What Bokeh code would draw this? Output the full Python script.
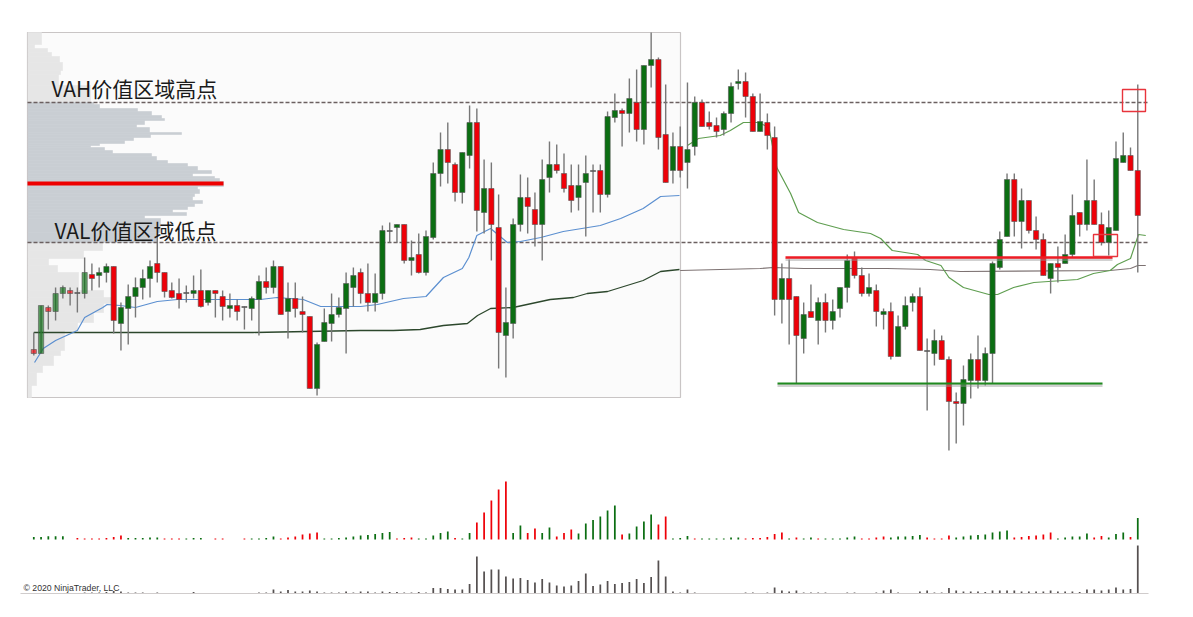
from bokeh.plotting import figure
from bokeh.models import Range1d
from bokeh.core.properties import value
from bokeh.embed import file_html
from bokeh.resources import INLINE

# --- candles (price scale runs downward, no labels in the source)
candles = [
 # dir, body_top, body_bottom, high, low
 ("r",349,353,332,355),("g",305,353,305,353),("r",307,311,305,329),("g",293,311,287,320),
 ("g",287,293,285,298),("r",290,293,287,305),("d",292,293,287,312),("g",272,293,257,298),
 ("r",274,278,263,290),("g",272,275,267,287),("g",266,272,263,282),("r",266,320,266,333),
 ("g",307,323,302,350),("g",296,308,284,344),("g",287,296,277,317),("g",278,287,269,299),
 ("g",266,278,260,297),("r",263,272,236,282),("r",272,291,272,297),("r",290,297,282,298),
 ("r",293,299,278,308),("d",292,293,285,302),("g",290,293,275,298),("r",290,306,269,307),
 ("g",290,302,290,305),("r",290,293,290,317),("r",296,306,290,320),("g",305,308,293,317),
 ("r",305,311,299,320),("d",306,307,306,329),("g",298,308,296,320),("g",281,299,275,335),
 ("r",281,287,267,293),("g",266,287,260,293),("r",266,314,266,314),("g",298,311,282,338),
 ("r",298,308,282,317),("r",311,314,296,332),("r",316,388,316,388),("g",344,388,342,395),
 ("g",322,341,308,341),("g",314,323,293,341),("g",307,314,297,317),("g",283,308,272,353),
 ("g",275,287,267,306),("r",272,293,268,303),("r",293,302,263,311),("g",293,302,273,311),
 ("g",230,293,225,299),("d",230,231,222,242),("g",224,227,224,242),("r",224,260,224,263),
 ("g",257,260,240,275),("r",254,272,233,273),("g",236,272,230,275),("g",173,237,162,239),
 ("g",149,173,132,186),("r",149,162,122,183),("r",164,192,162,201),("g",152,192,152,203),
 ("g",122,155,105,168),("r",122,210,108,231),("g",188,212,159,233),("r",188,224,162,260),
 ("r",227,332,194,368),("g",322,335,287,377),("g",224,323,218,338),("g",197,224,174,231),
 ("r",197,206,177,233),("r",209,224,192,246),("g",179,224,159,260),("g",164,177,141,192),
 ("r",164,170,144,173),("r",173,188,153,192),("r",185,200,164,212),("g",185,197,164,210),
 ("g",173,182,155,236),("d",170,171,164,212),("r",170,194,164,212),("g",116,194,111,197),
 ("g",110,117,93,122),("r",110,113,108,146),("g",98,113,78,132),("r",102,129,69,141),
 ("g",65,129,65,144),("g",59,65,32,87),("r",59,137,57,149),("r",134,182,84,182),
 ("g",146,170,132,183),("r",146,170,126,177),("g",149,162,82,188),("g",102,146,96,155),
 ("r",102,126,99,126),("r",122,126,111,129),("r",125,131,117,137),("g",113,129,111,135),
 ("g",86,113,82,122),("g",81,83,69,89),("r",81,96,72,117),("r",96,131,93,131),
 ("g",121,131,93,131),("r",122,135,113,149),("r",137,299,126,315),("g",278,299,263,323),
 ("r",278,299,259,344),("r",296,335,296,383),("g",314,338,302,353),("r",311,317,284,317),
 ("g",302,320,297,344),("r",302,320,293,332),("g",311,320,299,329),("g",287,308,287,317),
 ("g",260,287,254,302),("r",257,275,251,278),("r",275,293,267,296),("g",287,293,273,296),
 ("r",290,311,284,326),("g",311,314,308,329),("r",311,356,302,359),("g",326,356,315,356),
 ("g",305,326,296,329),("g",296,302,293,311),("r",296,350,287,350),("d",350,351,338,410),
 ("g",340,353,329,365),("r",340,359,335,359),("r",359,401,356,450),("r",401,403,392,443),
 ("g",379,403,365,425),("g",359,380,353,398),("r",359,380,335,388),("g",353,380,347,385),
 ("g",263,353,261,383),("g",239,267,231,269),("g",179,236,173,236),("r",179,221,173,236),
 ("g",200,221,188,248),("r",200,230,200,233),("r",230,239,216,249),("r",239,275,233,275),
 ("g",263,278,263,293),("r",263,267,246,282),("g",254,263,234,263),("g",215,254,194,257),
 ("r",212,224,212,236),("g",200,224,159,230),("r",200,224,179,224),("r",224,242,212,245),
 ("g",227,242,210,255),("g",158,230,141,230),("g",155,162,132,162),("r",155,170,147,170),
 ("r",170,215,84,272),
]

# --- delta-volume panel: colour and height per bar
delta_vals = [
 ("g",2.5),("g",2.5),("g",3.3),("g",3.3),("g",3.3),("n",0),("r",1.5),("r",1),("r",1),("r",1),
 ("r",1.5),("r",2.5),("r",4),("g",1.5),("g",1.5),("g",1.5),("g",2),("g",2),("r",1),("r",1),
 ("r",1),("g",1),("g",1.5),("g",1.5),("n",0),("r",1),("r",1),("n",0),("n",0),("r",1),
 ("g",1),("g",1),("g",1.5),("g",3),("r",1),("r",2),("r",3),("r",5),("r",6),("r",7),
 ("g",1),("g",1),("g",1.5),("g",2),("g",3),("g",4),("g",4.5),("g",5.5),("g",6.5),("g",7.5),
 ("r",1),("r",1.5),("r",2),("g",1),("g",1),("g",4),("g",6.5),("g",8),("r",1.5),("g",1),
 ("g",6.5),("r",17),("r",27),("r",39),("r",50),("r",58),("g",6.5),("g",14),("r",6.5),("r",11),
 ("g",6.5),("g",12),("r",3),("r",6.5),("r",10),("g",6),("g",16),("g",19.5),("g",23),("g",29),
 ("g",34),("r",5),("g",6),("g",13),("g",18),("g",25),("r",15),("r",23),("g",1),("g",1.5),
 ("g",3.5),("r",1),("g",1),("g",1),("g",1),("g",1),("g",2),("g",2),("r",1),("r",1.5),
 ("r",1.5),("r",2.5),("r",5.5),("r",7),("g",1),("r",2),("g",1),("g",2),("r",1),("g",1),
 ("g",1),("g",1),("g",2),("g",3),("r",1),("r",1),("r",2),("r",3),("g",2),("g",3),
 ("g",3),("g",3.5),("g",4.5),("r",2),("r",1),("r",1),("r",4),("g",2),("g",3),("g",4),
 ("g",4.5),("g",5),("g",7),("g",8),("g",9),("r",2),("r",2.5),("r",3.5),("r",4),("r",5),
 ("r",7),("g",1),("g",2),("g",3),("g",3),("g",6),("r",2),("r",3.5),("g",2),("g",5.5),
 ("g",7),("r",2.5),("g",21.5),
]

# --- total-volume panel
volume = [
 0,0,0,0,0.5,0,0,1,1,1,1.5,2.5,2,1,1,1,0,1,0,0,
 0,0,1.5,0,0,0,0,0,0,0,0,1,1,4,2,3.5,2,2,3,2,
 1,1,1,2,1,2,2,1,2,1.5,1.5,1,1,1.5,1,5.5,5.5,4.5,4,4,
 9.5,37,22,24,24,17,15,15.5,13.5,11,14.5,11,8,7,8,12.5,20,7.5,9,12.5,
 9.5,10.5,11.5,14.5,10.5,16.5,33,17,2,1,4,1,0,0,0,0,0,0,1,1,
 0.5,1,6,3,2,3,1,1,1,1,0,0,1,1,0,0,1,3,4,1,
 0,0,2,3,1,1,5.5,3,2,2,2,1.5,3,3,3,3,2,2,2,2,
 3,2,2,2,1.5,4,4,3,4,6,4,4.5,48,
]

# --- running lines: bar position, level
blue_x = [0.1,1.3,3,6,7,9.5,10.1,11.9,14,17,19.8,31.2,33.5,37.1,39.5,45,47.3,50.9,54,56.4,59,59.9,61,62.9,65.2,67,69.8,72.9,78,80.8,83.9,86.3,88.9]
blue_y = [362,348,340,330,317,307,304,305,307,301,299,299,297,299,306,306,304,298,296,277,268,257,235,228,242,241,237,231,225,218,208,196,195]
dark_x = [0,30.2,45,49.5,53.2,56.4,59.7,61.1,62.9,66,71.1,74.3,76.2,79,83.9,86.3,88.9]
dark_y = [332,332,330,330,329,325,323,315,308,307,299,297,293,291,280,271,269]
gray_x = [89,100,101.8,106,117.5,123.4,127.6,148.2,151,152,153.1]
gray_y = [270,268,267,268,268,269,271,270,268,265,265]
green_x = [90,91.5,94.5,95.9,97.7,99.8,101.2,102.3,104.2,105.3,107.9,111.5,115.2,116.6,118.2,121.7,122.8,124.9,126,128,131.5,132.7,134.9,137.7,143.7,145.9,148.2,149.2,151,152.1,153.1]
green_y = [145,138,135,130,122,122,127,167,193,212,222,229,233,238,250,254,260,265,277,287,294,294,287,282,279,273,270,264,258,234,235]

# --- volume profile at the left: row top, row bottom, extent
profile_light = [
 (32,44,41),(44,48,34),(48,52,47),(52,56,51),(56,62,59),(62,70,62),(70,74,60),(74,85,58),(85,102,90),
 (242,250,102),(250,258,83),(258,265,48),(265,272,57),(272,290,78),(290,297,103),(297,303,113),
 (303,312,103),(312,322,93),(322,330,77),(330,350,64),(350,355,60),(355,365,53),(365,372,42),(372,385,36),(385,397,31),
]
profile_value_area = [
 (102,104,93),(104,108,99),(108,111,137),(111,115,151),(115,118,161),(118,120,164),(120,124,144),
 (124,127,136),(127,132,149),(132,134,181),(134,137,150),(137,140,133),(140,143,124),(143,145,99),(145,147,90),
 (147,150,104),(150,153,112),(153,156,151),(156,160,156),(160,163,167),(163,166,187),(166,170,197),
 (170,173,211),(173,176,192),(176,178,214),(178,181,219),(181,186,223),(186,189,197),(189,193,199),
 (193,196,194),(196,200,192),(200,203,202),(203,206,194),(206,209,187),(209,212,172),(212,215,186),
 (215,218,144),(218,232,160),(232,242,157),
]

labels = ["VAH价值区域高点", "VAL价值区域低点"]
copyright_text = "© 2020 NinjaTrader, LLC"

STEP = 7.263
X0 = 33.3
W, H = 1185, 609
p = figure(width=W, height=H, output_backend="svg", toolbar_location=None,
           x_range=Range1d(-X0 / STEP, (W - X0) / STEP),
           y_range=Range1d(H, 0), min_border=0,
           background_fill_color="white", border_fill_color="white")
p.extra_x_ranges = {"page": Range1d(0, W)}
p.axis.visible = False
p.grid.visible = False
p.outline_line_color = None

# frame
p.quad(left=[27], right=[680], top=[32], bottom=[397], x_range_name="page",
       fill_color="#fbfbfb", line_color="#c9c5c5", line_width=1.2)

# profile
for rows, col in ((profile_light, "#e6e6e6"), (profile_value_area, "#c9ced3")):
    p.quad(left=[27.5] * len(rows), right=[r[2] for r in rows], top=[r[0] for r in rows],
           bottom=[r[1] for r in rows], x_range_name="page", fill_color=col, line_color=col, line_width=0.6)
p.line([27, 223], [183, 183], x_range_name="page", line_color="#ee0000", line_width=4)

# levels
for lvl in (102, 242):
    p.line([27, 1148], [lvl, lvl], x_range_name="page", line_color="#6b6060", line_width=1.3, line_dash="4 2")

# running lines
p.line(dark_x, dark_y, line_color="#2c472c", line_width=1.3)
p.line(gray_x, gray_y, line_color="#7d7272", line_width=1.1)
p.line(blue_x, blue_y, line_color="#5b8fd0", line_width=1.2)
p.line(green_x, green_y, line_color="#5f9e50", line_width=1.2)

# candles
xs = list(range(len(candles)))
p.segment(xs, [c[3] for c in candles], xs, [c[4] for c in candles], line_color="#777777", line_width=1.4)
UP, DOWN = "#0b6e12", "#ee0008"
cols = [UP if c[0] == "g" else DOWN if c[0] == "r" else "#666666" for c in candles]
alphas = [0.65 if i < 8 and i != 6 else 1.0 for i in xs]
p.vbar(x=xs, width=0.72, top=[c[1] for c in candles], bottom=[c[2] for c in candles],
       fill_color=cols, fill_alpha=alphas, line_color="#555555", line_width=0.6)

# support / resistance strokes with soft shadow
p.line([777, 1102], [385, 385], x_range_name="page", line_color="#999999", line_alpha=0.45, line_width=3)
p.line([777, 1102], [383, 383], x_range_name="page", line_color="#1f8a1f", line_width=2)
p.line([785, 1112], [259, 259], x_range_name="page", line_color="#999999", line_alpha=0.45, line_width=3)
p.line([785, 1112], [257, 257], x_range_name="page", line_color="#ee1c25", line_width=2.5)

# small highlight boxes
p.quad(left=[1122, 1093], right=[1145, 1117], top=[89, 234], bottom=[111, 256], x_range_name="page",
       fill_color=None, line_color="#e8343c", line_width=1.4)

# volume panels
BASE1, BASE2 = 539, 593
vx = [i for i, d in enumerate(delta_vals) if d[0] != "n"]
vh = [d[1] for d in delta_vals if d[0] != "n"]
vc = [UP if d[0] == "g" else DOWN for d in delta_vals if d[0] != "n"]
p.vbar(x=vx, width=0.24, top=[BASE1 - h for h in vh], bottom=[BASE1] * len(vh), fill_color=vc, line_color=None)
tx = [i for i, v in enumerate(volume) if v > 0]
p.vbar(x=tx, width=0.24, top=[BASE2 - volume[i] for i in tx], bottom=[BASE2] * len(tx),
       fill_color="#555050", line_color=None)
p.line([20, 1148], [593, 593], x_range_name="page", line_color="#d0cccc", line_width=1.2)

# texts
p.text([51], [87], text=[labels[0]], x_range_name="page", text_font=value("Noto Sans CJK SC"),
       text_font_size="21px", text_color="#1a1a1a", text_baseline="middle")
p.text([54], [229], text=[labels[1]], x_range_name="page", text_font=value("Noto Sans CJK SC"),
       text_font_size="21px", text_color="#1a1a1a", text_baseline="middle")
p.text([23], [587], text=[copyright_text], x_range_name="page", text_font=value("Liberation Sans"),
       text_font_size="8.7px", text_color="#333333", text_baseline="middle")

open("out.html", "w").write(file_html(p, INLINE))
